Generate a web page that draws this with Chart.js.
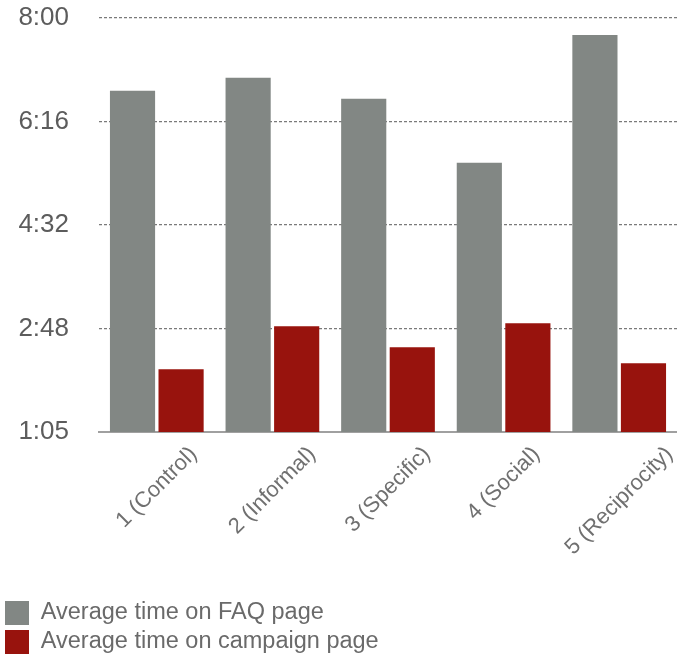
<!DOCTYPE html>
<html>
<head>
<meta charset="utf-8">
<script src="https://cdn.jsdelivr.net/npm/chart.js@4.4.1/dist/chart.umd.min.js"></script>
<style>
  html, body { margin: 0; padding: 0; background: #ffffff; }
  #wrap { width: 677px; height: 659px; position: relative; }
</style>
</head>
<body>
<div id="wrap"><canvas id="chart"></canvas></div>
<script>
// Test variants shown on the x axis
const categories = ['1 (Control)', '2 (Informal)', '3 (Specific)', '4 (Social)', '5 (Reciprocity)'];

// Average time in seconds
const faqSeconds = [407, 420, 399, 335, 463];
const campaignSeconds = [128, 171, 150, 174, 134];

// Y axis ticks (seconds) and their m:ss labels
const yTickSeconds = [65, 168.75, 272.5, 376.25, 480];
const yTickLabels = ['1:05', '2:48', '4:32', '6:16', '8:00'];

const seriesNames = ['Average time on FAQ page', 'Average time on campaign page'];

const FONT = '"Liberation Sans", Arial, Helvetica, sans-serif';

// Rotated category labels, each centred under its group with the top of
// its rotated box sitting a fixed distance below the axis line.
const rotatedLabels = {
  id: 'rotatedLabels',
  afterDraw(chart) {
    const { ctx, scales: { x } } = chart;
    const size = 22;
    const angle = Math.PI / 4;
    ctx.save();
    ctx.font = size + 'px ' + FONT;
    ctx.fillStyle = '#707070';
    ctx.textAlign = 'center';
    ctx.textBaseline = 'middle';
    categories.forEach((label, i) => {
      const cx = x.getPixelForValue(i);
      const w = ctx.measureText(label).width;
      const half = (w + size * 0.75) * Math.SQRT1_2 / 2;
      const cy = x.top + 13 + half;
      ctx.save();
      ctx.translate(cx, cy);
      ctx.rotate(-angle);
      ctx.fillText(label, 0, 0);
      ctx.restore();
    });
    ctx.restore();
  }
};

new Chart(document.getElementById('chart'), {
  type: 'bar',
  data: {
    labels: categories,
    datasets: [
      {
        label: seriesNames[0],
        data: faqSeconds,
        backgroundColor: '#828784',
        borderWidth: 0,
        categoryPercentage: 0.84,
        barPercentage: 0.93
      },
      {
        label: seriesNames[1],
        data: campaignSeconds,
        backgroundColor: '#98130d',
        borderWidth: 0,
        categoryPercentage: 0.84,
        barPercentage: 0.93
      }
    ]
  },
  options: {
    responsive: true,
    maintainAspectRatio: false,
    animation: false,
    events: [],
    layout: { padding: { left: 0, right: 0, top: 18, bottom: -5 } },
    plugins: {
      tooltip: { enabled: false },
      legend: {
        position: 'bottom',
        align: 'start',
        labels: {
          boxWidth: 24,
          boxHeight: 24,
          padding: 5,
          color: '#6a6a6a',
          font: { family: FONT, size: 23.5 }
        }
      }
    },
    scales: {
      x: {
        grid: { display: false, drawTicks: false },
        border: { display: true, color: '#a0a0a0', width: 2 },
        ticks: { display: false },
        afterFit(scale) {
          scale.height = 164;
          scale.paddingLeft = 0; scale.paddingRight = 0;
        }
      },
      y: {
        min: 65,
        max: 480,
        grid: {
          color: '#7a7a7a',
          lineWidth: 1.2,
          drawTicks: false
        },
        border: { display: false, dash: [3, 2] },
        afterBuildTicks(scale) {
          scale.ticks = yTickSeconds.map(v => ({ value: v }));
        },
        afterFit(scale) {
          scale.width = 99;
          scale.paddingTop = 0; scale.paddingBottom = 0;
        },
        ticks: {
          padding: 30,
          color: '#5c5c5c',
          font: { family: FONT, size: 26 },
          callback(value, index) { return yTickLabels[index]; }
        }
      }
    }
  },
  plugins: [rotatedLabels]
});
</script>
</body>
</html>
